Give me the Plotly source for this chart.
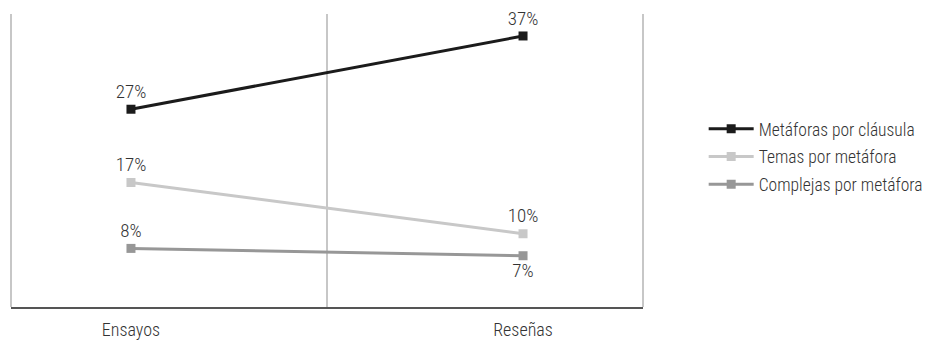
import plotly.graph_objects as go

# Data
categories = ["Ensayos", "Reseñas"]
series_names = ["Metáforas por cláusula", "Temas por metáfora", "Complejas por metáfora"]
metaforas_por_clausula = [27, 37]
temas_por_metafora = [17, 10]
complejas_por_metafora = [8, 7]

values = [metaforas_por_clausula, temas_por_metafora, complejas_por_metafora]
colors = ["#1b1b1b", "#c8c8c8", "#979797"]
label_positions = [
    ["top center", "top center"],
    ["top center", "top center"],
    ["top center", "bottom center"],
]

FONT = "Roboto Condensed, Liberation Sans Narrow, sans-serif"
TEXT_COLOR = "#333333"
FS = 17.5
FS_LABEL = 19

fig = go.Figure()
for i, (name, vals) in enumerate(zip(series_names, values)):
    fig.add_trace(go.Scatter(
        x=categories,
        y=vals,
        name=name,
        legendgroup=f"g{i}",
        mode="lines+markers+text",
        line=dict(color=colors[i], width=3),
        marker=dict(symbol="square", size=9, color=colors[i]),
        text=[f"{v}%" for v in vals],
        textposition=label_positions[i],
        textfont=dict(family=FONT, size=FS_LABEL, color=TEXT_COLOR, weight=300),
        cliponaxis=False,
    ))

# Frame: left edge, centre divider, right edge
for xp, ref in [(0, "paper"), (0.5, "x"), (1, "paper")]:
    fig.add_shape(type="line", xref=ref, yref="paper", x0=xp, x1=xp, y0=0, y1=1,
                  line=dict(color="#b4b4b4", width=1.5), layer="below")

fig.update_layout(
    width=931, height=340,
    margin=dict(l=11, r=288, t=14, b=33, autoexpand=False),
    paper_bgcolor="white", plot_bgcolor="white",
    font=dict(family=FONT, size=FS, color=TEXT_COLOR, weight=300),
    showlegend=True,
    legend=dict(
        x=1.096, y=0.512, xanchor="left", yanchor="middle",
        font=dict(family=FONT, size=FS, color=TEXT_COLOR, weight=300),
        tracegroupgap=2,
        itemwidth=45,
        bgcolor="rgba(0,0,0,0)",
    ),
    xaxis=dict(
        type="category",
        categoryorder="array", categoryarray=categories,
        range=[-0.306, 1.306],
        showgrid=False, zeroline=False, automargin=False,
        showline=True, linecolor="#555555", linewidth=1.5,
        ticks="", ticklabelstandoff=6,
        tickfont=dict(family=FONT, size=18, color=TEXT_COLOR, weight=300),
    ),
    yaxis=dict(
        range=[0, 40], automargin=False,
        showgrid=False, zeroline=False, showline=False,
        showticklabels=False, ticks="",
    ),
)

fig.write_html("out.html")
